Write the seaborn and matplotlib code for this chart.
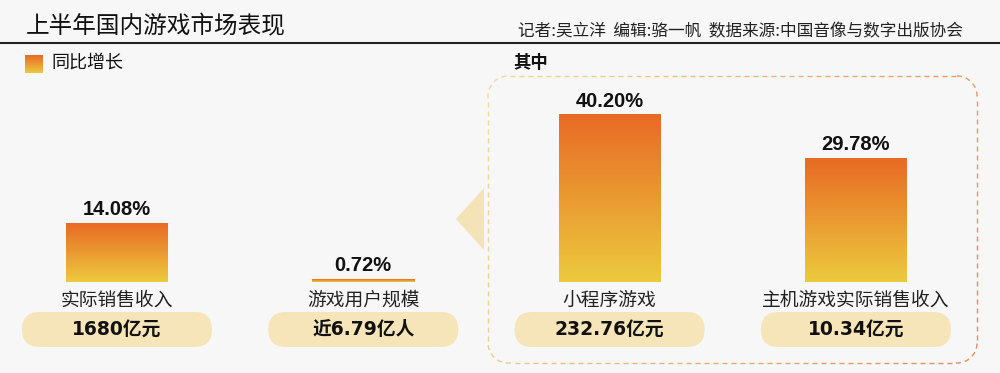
import numpy as np
import pandas as pd
import matplotlib
matplotlib.use('Agg')
import matplotlib.pyplot as plt
import seaborn as sns
from matplotlib.patches import FancyBboxPatch, Polygon
from matplotlib.collections import LineCollection
from matplotlib.colors import to_rgb

# 数据
categories = ['实际销售收入', '游戏用户规模', '小程序游戏', '主机游戏实际销售收入']
growth = [14.08, 0.72, 40.20, 29.78]
totals = ['1680亿元', '近6.79亿人', '232.76亿元', '10.34亿元']

title = '上半年国内游戏市场表现'
credits = '记者:吴立洋  编辑:骆一帆  数据来源:中国音像与数字出版协会'
legend_label = '同比增长'
sub_label = '其中'

BG = '#f7f7f7'
TOP = '#e86a24'
BOTTOM = '#ecca3e'
PILL = '#f5e5b9'
CJK = ['Noto Sans CJK SC', 'DejaVu Sans']
NUM = ['Liberation Sans', 'DejaVu Sans']

sns.set_theme(style='white')
plt.rcParams['font.family'] = CJK

W, H = 1000, 373
# layout in pixels
x0_px, step = 117, 246.3      # first bar centre, spacing
base_px, scale = 282, 4.155   # baseline (from top), px per percent
bar_w = 102 / step

fig = plt.figure(figsize=(W / 100, H / 100), dpi=100, facecolor=BG)


def gradient(c1=TOP, c2=BOTTOM, n=256):
    a, b = np.array(to_rgb(c1)), np.array(to_rgb(c2))
    t = np.linspace(0, 1, n)[:, None]
    return (a * (1 - t) + b * t)[:, None, :]


# decoration layer in pixel coords
deco = fig.add_axes([0, 0, 1, 1])
deco.set_xlim(0, W)
deco.set_ylim(H, 0)
deco.axis('off')

deco.text(26, 27, title, fontsize=17, va='center', ha='left', color='#111', fontweight='medium')
deco.plot([0, W], [43, 43], color='#222', lw=1.5)
deco.text(963, 32, credits, fontsize=12, va='center', ha='right', color='#222')

deco.imshow(gradient(), extent=(25, 43, 73, 55), origin='upper', aspect='auto')
deco.text(51, 63, legend_label, fontsize=13, va='center', ha='left', color='#111')
deco.text(513, 63, sub_label, fontsize=12.5, va='center', ha='left', color='#111', fontweight='bold')

deco.add_patch(Polygon([(456, 219), (484, 188), (484, 250)], closed=True, fc='#f3e3b6', ec='none'))


# dashed rounded frame with a yellow -> orange gradient
def frame_points(x0, y0, x1, y1, r, n=40):
    parts = []
    corners = [((x1 - r, y0 + r), -90, 0), ((x1 - r, y1 - r), 0, 90),
               ((x0 + r, y1 - r), 90, 180), ((x0 + r, y0 + r), 180, 270)]
    for (cx, cy), a0, a1 in corners:
        a = np.radians(np.linspace(a0, a1, n))
        parts.append(np.column_stack([cx + r * np.cos(a), cy + r * np.sin(a)]))
    parts.append(parts[0][:1])
    pts = np.vstack(parts)
    d = np.r_[0, np.cumsum(np.hypot(*np.diff(pts, axis=0).T))]
    s = np.arange(0, d[-1], 0.5)
    return np.column_stack([np.interp(s, d, pts[:, 0]), np.interp(s, d, pts[:, 1])]), s


fx0, fy0, fx1, fy1 = 488, 76, 977, 363
pts, s = frame_points(fx0, fy0, fx1, fy1, 20)
on, period = 5, 9
segs, cols = [], []
c_a, c_b = np.array(to_rgb('#f0dc96')), np.array(to_rgb('#e8885a'))
for start in np.arange(0, s[-1], period):
    m = (s >= start) & (s <= start + on)
    if m.sum() < 2:
        continue
    seg = pts[m]
    segs.append(seg)
    cx, cy = seg.mean(axis=0)
    t = np.clip(0.8 * (cx - fx0) / (fx1 - fx0) + 0.2 * (cy - fy0) / (fy1 - fy0), 0, 1)
    cols.append(c_a * (1 - t) + c_b * t)
deco.add_collection(LineCollection(segs, colors=cols, linewidths=1.0))

# bar layer
ax = fig.add_axes([0, 0, 1, 1])
ax.patch.set_alpha(0)
df = pd.DataFrame({'cat': categories, 'growth': growth})
sns.barplot(data=df, x='cat', y='growth', ax=ax, width=bar_w, color=TOP, zorder=1)

for p in list(ax.patches):
    x, w, h = p.get_x(), p.get_width(), p.get_height()
    ax.imshow(gradient(), extent=(x, x + w, 0, h), origin='upper', aspect='auto', zorder=2)
    p.set_facecolor('none')
    p.set_edgecolor('none')

pill_w = 190 / step
pill_h = 35 / scale
pill_c = -47.5 / scale
r = 17.5 / step
for i, (cat, v, tot) in enumerate(zip(categories, growth, totals)):
    ax.annotate(f'{v:.2f}%', (i, v), xytext=(0, 3), textcoords='offset points',
                ha='center', va='bottom', fontsize=14.5, fontweight='bold',
                family=NUM, color='#111')
    ax.annotate(cat, (i, 0), xytext=(0, -18), textcoords='offset pixels',
                ha='center', va='center', fontsize=13.5, color='#222')
    ax.add_patch(FancyBboxPatch((i - pill_w / 2, pill_c - pill_h / 2), pill_w, pill_h,
                                boxstyle=f'round,pad=0,rounding_size={r}',
                                mutation_aspect=step / scale, fc=PILL, ec='none', zorder=1))
    ax.text(i, pill_c, tot, ha='center', va='center', fontsize=13.5, fontweight='bold',
            family=['DejaVu Sans', 'Noto Sans CJK SC'], color='#111', zorder=3)

ax.set_xlim(-x0_px / step, (W - x0_px) / step)
ax.set_ylim((base_px - H) / scale, base_px / scale)
ax.axis('off')

fig.savefig('out.png', dpi=100, facecolor=BG)
